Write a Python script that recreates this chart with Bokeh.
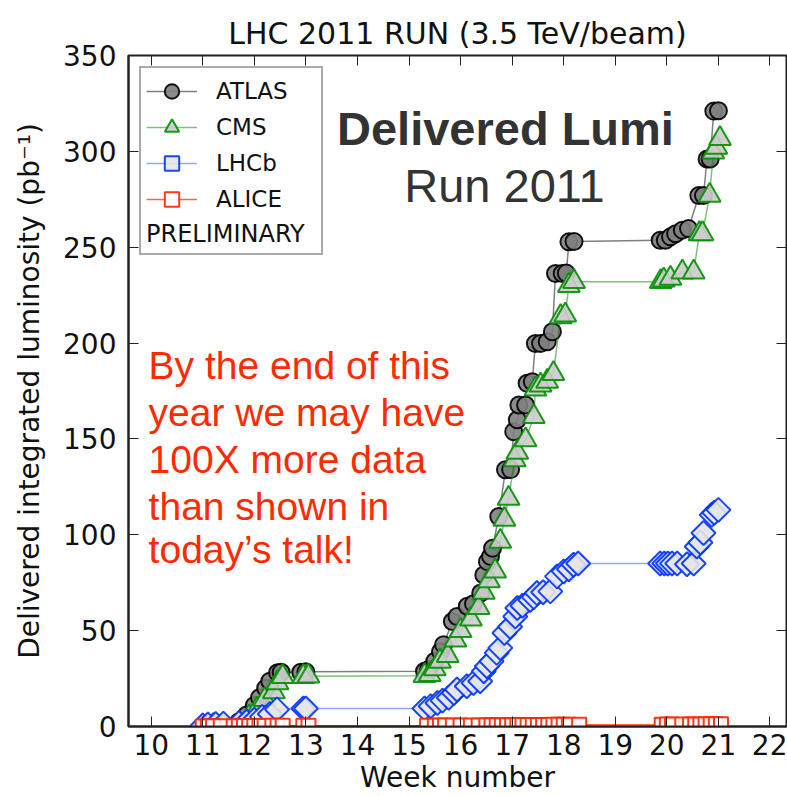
import math
from bokeh.plotting import figure
from bokeh.models import Range1d, LinearAxis, FixedTicker, Legend, LegendItem, Label
from bokeh.embed import file_html
from bokeh.resources import INLINE

# ---------------- data ----------------
atlas_week = [11.0, 11.2, 11.4, 11.7, 11.85, 12.0, 12.1, 12.22, 12.3, 12.45, 12.52,
              12.9, 13.0, 15.3, 15.38, 15.5, 15.61, 15.67, 15.84, 15.93,
              16.13, 16.25, 16.39, 16.45, 16.52, 16.58, 16.62, 16.74, 16.87, 16.97,
              17.03, 17.1, 17.13, 17.26, 17.29, 17.39, 17.45, 17.55, 17.68, 17.78,
              17.84, 17.97, 18.05, 18.1, 18.2,
              19.87, 19.97, 20.07, 20.17, 20.3, 20.42,
              20.62, 20.71, 20.78, 20.84, 20.91, 21.0]
atlas_lumi = [0.2, 0.4, 0.6, 2.5, 6, 11, 15, 20, 23.6, 28, 28.3,
              28.3, 28.5, 28.8, 29.7, 34, 39, 42.7, 54.8, 57.4,
              62.7, 64, 69.6, 79, 86, 88.7, 93, 109.5, 133.9, 134,
              153.8, 160, 167.7, 167.7, 179, 179.8, 199.8, 199.8, 200.7, 205.9,
              236.3, 236.3, 236.5, 252.8, 253,
              253.6, 253.6, 255.4, 257, 258.9, 259.7,
              277, 277, 296, 296, 321, 321.2]

cms_week = [11.0, 11.2, 11.4, 11.7, 11.9, 12.05, 12.2, 12.38, 12.45, 12.55,
            12.95, 13.05, 15.3, 15.4, 15.5, 15.6, 15.75, 15.9, 16.0,
            16.2, 16.35, 16.45, 16.55, 16.67, 16.77, 16.85, 16.93,
            17.05, 17.1, 17.26, 17.42, 17.45, 17.55, 17.68, 17.8,
            17.94, 18.03, 18.1, 18.2,
            19.88, 19.94, 20.07, 20.3, 20.52,
            20.63, 20.69, 20.83, 20.9, 20.96, 21.03]
cms_lumi = [0.2, 0.4, 0.6, 1.5, 5, 9, 14, 18, 22.7, 26,
            26, 26.2, 26.5, 27, 30, 34, 37, 45, 50,
            56, 62, 70, 76, 81, 96.5, 108, 119,
            139, 143, 149.5, 161.6, 176, 178, 180, 184,
            213.7, 214.6, 230, 232,
            232, 232.8, 233.7, 237, 237,
            257, 257, 277, 299.6, 302, 306.6]

lhcb_week = [11.0, 11.1, 11.25, 11.4, 11.7, 11.85, 12.0, 12.15, 12.3, 12.44,
             12.95, 13.0, 15.3, 15.42, 15.55, 15.65, 15.77, 15.87, 15.93,
             16.12, 16.25, 16.38, 16.45, 16.51, 16.6, 16.7, 16.77, 16.85, 16.96,
             17.06, 17.1, 17.2, 17.35, 17.42, 17.48, 17.6, 17.74, 17.87,
             18.0, 18.1, 18.19, 18.28,
             19.87, 19.95, 20.02, 20.1, 20.2, 20.39, 20.52,
             20.58, 20.65, 20.71, 20.87, 20.92, 21.0]
lhcb_lumi = [0.5, 1.0, 1.3, 1.5, 1.8, 2.5, 3.5, 5, 6.5, 8.9,
             9.4, 9.4, 9.4, 10.6, 12.3, 13.5, 15, 17.5, 19.3,
             21, 22.7, 23.6, 28.8, 31.4, 34, 38.4, 41, 48.8, 52,
             57.4, 61.8, 63, 66, 67.5, 69.6, 70, 70.5, 78.3,
             80.9, 82, 84.4, 85,
             85, 85, 85, 85, 85, 84.6, 85,
             93.9, 96, 100.9, 110.4, 111.5, 113]

alice_week = [11.0, 11.1, 11.2, 11.35, 11.6, 11.7, 11.8, 11.9, 12.0, 12.1, 12.2,
              12.35, 12.45, 12.55, 12.95, 13.05,
              15.35, 15.5, 15.6, 15.7, 15.85, 16.0,
              16.2, 16.35, 16.5, 16.6, 16.7, 16.8, 16.9,
              17.0, 17.1, 17.2, 17.3, 17.4, 17.5, 17.6, 17.7, 17.8, 17.9,
              18.0, 18.1, 18.3,
              19.9, 20.0, 20.1, 20.3, 20.45, 20.55, 20.65, 20.75, 20.85, 20.95, 21.05]
alice_lumi = [0.05, 0.08, 0.1, 0.12, 0.15, 0.18, 0.2, 0.22, 0.25, 0.28, 0.3,
              0.33, 0.35, 0.37, 0.38, 0.4,
              0.42, 0.44, 0.46, 0.48, 0.5, 0.52,
              0.55, 0.57, 0.6, 0.62, 0.64, 0.66, 0.68,
              0.7, 0.72, 0.74, 0.76, 0.78, 0.8, 0.82, 0.84, 0.86, 0.88,
              0.9, 0.92, 0.95,
              0.96, 0.98, 1.0, 1.02, 1.05, 1.08, 1.1, 1.12, 1.15, 1.18, 1.2]

x_ticks = list(range(10, 23))
y_ticks = list(range(0, 351, 50))

title_text = "LHC 2011 RUN (3.5 TeV/beam)"
x_label = "Week number"
y_label = "Delivered integrated luminosity (pb\u207b\u00b9)"
legend_note = "PRELIMINARY"
note_lines = ["By the end of this", "year we may have", "100X more data",
              "than shown in", "today\u2019s talk!"]

FONT = "DejaVu Sans"
SANS = "Liberation Sans"

# ---------------- figure ----------------
p = figure(width=787, height=796, output_backend="svg", toolbar_location=None,
           x_range=Range1d(9.56, 22.32), y_range=Range1d(0, 350),
           min_border_left=128, min_border_right=1, min_border_top=55, min_border_bottom=69,
           title=title_text)
p.title.align = "center"
p.title.text_font = FONT
p.title.text_font_size = "30px"
p.title.text_font_style = "normal"
p.title.text_color = "#111111"

p.xgrid.visible = False
p.ygrid.visible = False
p.outline_line_color = "#222222"
p.outline_line_width = 2
p.background_fill_color = "white"
p.border_fill_color = "white"

for ax in p.xaxis + p.yaxis:
    ax.major_label_text_font = FONT
    ax.major_label_text_font_size = "28px"
    ax.major_label_text_color = "#111111"
    ax.axis_label_text_font = FONT
    ax.axis_label_text_font_size = "28px"
    ax.axis_label_text_font_style = "normal"
    ax.axis_label_text_color = "#111111"
    ax.major_tick_in = 10
    ax.major_tick_out = 0
    ax.minor_tick_line_color = None
    ax.axis_line_width = 2
    ax.axis_line_color = "#222222"
    ax.major_tick_line_color = "#222222"

p.xaxis.ticker = FixedTicker(ticks=x_ticks)
p.yaxis.ticker = FixedTicker(ticks=y_ticks)
p.xaxis.axis_label = x_label
p.yaxis.axis_label = y_label
p.xaxis.major_label_standoff = 7
p.xaxis.axis_label_standoff = 3
p.yaxis.major_label_standoff = 12
p.yaxis.axis_label_standoff = 14

# inward ticks on top and right, no labels
top_ax = LinearAxis(ticker=FixedTicker(ticks=x_ticks), major_label_text_font_size="0px",
                    major_label_standoff=0, major_tick_in=10, major_tick_out=0,
                    minor_tick_line_color=None, axis_line_color=None,
                    major_tick_line_color="#222222",
                    major_label_overrides={t: "" for t in x_ticks})
right_ax = LinearAxis(ticker=FixedTicker(ticks=y_ticks), major_label_text_font_size="0px",
                      major_label_standoff=0, major_tick_in=10, major_tick_out=0,
                      minor_tick_line_color=None, axis_line_color=None,
                      major_tick_line_color="#222222",
                      major_label_overrides={t: "" for t in y_ticks})
p.add_layout(top_ax, "above")
p.add_layout(right_ax, "right")

# ---------------- series ----------------
l_atlas = p.line(atlas_week, atlas_lumi, line_color="black", line_alpha=0.5, line_width=1.5)
s_atlas = p.scatter(atlas_week, atlas_lumi, marker="circle", size=17,
                    fill_color="#808080", line_color="black", line_width=2, alpha=0.9)

l_cms = p.line(cms_week, cms_lumi, line_color="#008000", line_alpha=0.5, line_width=1.5)
s_cms = p.scatter(cms_week, cms_lumi, marker="triangle", size=22,
                  fill_color="#cccccc", line_color="#009000", line_width=2, alpha=0.9)

l_lhcb = p.line(lhcb_week, lhcb_lumi, line_color="#0022ff", line_alpha=0.4, line_width=1.5)
s_lhcb = p.scatter(lhcb_week, lhcb_lumi, marker="square", angle=math.pi / 4, size=17,
                   fill_color="#e6e6e6", line_color="#0033ff", line_width=2, alpha=0.9)

l_alice = p.line(alice_week, alice_lumi, line_color="#ff2200", line_alpha=0.7, line_width=1.5)
s_alice = p.scatter(alice_week, alice_lumi, marker="square", size=14,
                    fill_color="white", line_color="#ff2200", line_width=2, alpha=0.9)

legend = Legend(items=[
    LegendItem(label="ATLAS", renderers=[l_atlas, s_atlas]),
    LegendItem(label="CMS", renderers=[l_cms, s_cms]),
    LegendItem(label="LHCb", renderers=[l_lhcb, s_lhcb]),
    LegendItem(label="ALICE", renderers=[l_alice, s_alice]),
], location="top_left")
legend.title = legend_note
legend.title_location = "below"
legend.title_standoff = 3
legend.title_text_font = FONT
legend.title_text_font_size = "24px"
legend.title_text_font_style = "normal"
legend.title_text_color = "#111111"
legend.margin = 11
legend.padding = 5
legend.spacing = 0
legend.glyph_width = 51
legend.glyph_height = 36
legend.label_height = 36
legend.label_standoff = 19
legend.label_width = 100
legend.label_text_font = FONT
legend.label_text_font_size = "23px"
legend.label_text_color = "#111111"
legend.border_line_color = "#555555"
legend.border_line_width = 2
legend.background_fill_color = "white"
legend.background_fill_alpha = 1
p.add_layout(legend)

# ---------------- annotations ----------------
p.add_layout(Label(x=16.87, y=312, text="Delivered Lumi", text_font=SANS,
                   text_font_size="47px", text_font_style="bold", text_color="#333333",
                   text_align="center", text_baseline="middle"))
p.add_layout(Label(x=16.85, y=282.3, text="Run 2011", text_font=SANS,
                   text_font_size="47px", text_color="#333333",
                   text_align="center", text_baseline="middle"))

note_y = [188.5, 164.0, 139.5, 115.0, 92.5]
for txt, yy in zip(note_lines, note_y):
    p.add_layout(Label(x=9.95, y=yy, text=txt, text_font=SANS, text_font_size="39px",
                       text_color="#ff2a00", text_baseline="middle"))

open("out.html", "w").write(file_html(p, INLINE))
